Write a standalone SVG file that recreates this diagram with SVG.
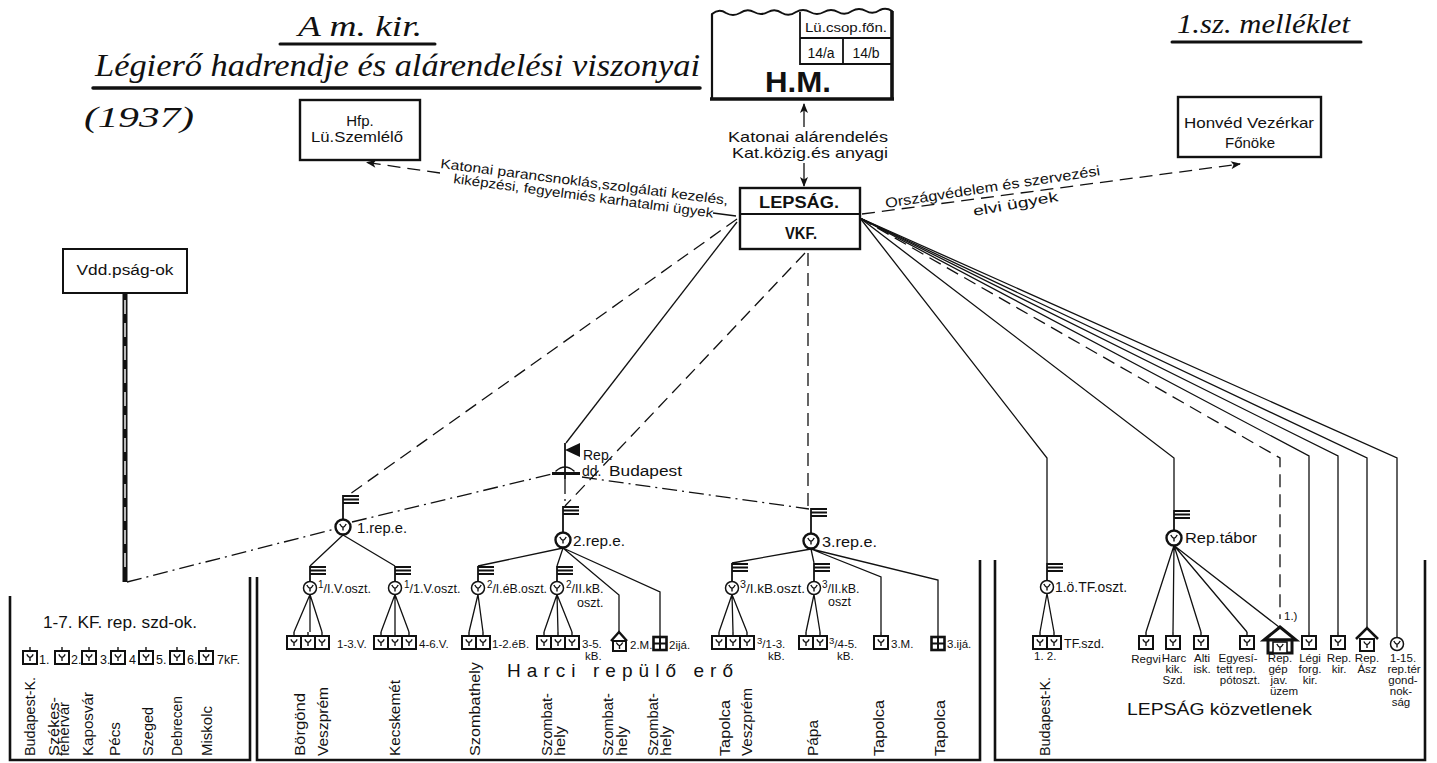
<svg xmlns="http://www.w3.org/2000/svg" width="1437" height="763" viewBox="0 0 1437 763">
<style>
.t{font-family:"Liberation Sans","DejaVu Sans",Arial,sans-serif;fill:#111}
.c{text-anchor:middle}
.b{font-weight:bold}
.cal{font-family:"Liberation Serif","DejaVu Serif",serif;font-style:italic;fill:#111}
.ln{stroke:#111;stroke-width:1.3;fill:none}
.da{stroke-dasharray:13 7}
.dd{stroke-dasharray:15 5 2 5}
.bx{fill:#fff;stroke:#111;stroke-width:2.4}
.fr{fill:none;stroke:#111;stroke-width:2.6}
.pole{stroke:#111;stroke-width:1.8;fill:none}
.ul{stroke:#111;stroke-linecap:round;fill:none}
.s11{font-size:11.5px}
.s12{font-size:12.5px}
.s14{font-size:14px}
</style>
<defs>
<marker id="ah" viewBox="0 0 10 8" refX="9" refY="4" markerWidth="11" markerHeight="8" markerUnits="userSpaceOnUse" orient="auto"><path d="M0,0 L10,4 L0,8 L2.5,4 z" fill="#111"/></marker>
<path id="ysym" d="M-3.2,-3 Q-1.5,0.2 0,0.2 Q1.5,0.2 3.2,-3 M0,0.2 V3.6" fill="none" stroke="#111" stroke-width="1.4"/>
<g id="yb"><path d="M0,-4V0" stroke="#111" stroke-width="1.4"/><rect x="-7" y="0" width="14" height="13" fill="#fff" stroke="#111" stroke-width="2"/><use href="#ysym" y="6.3"/></g>
<g id="cyL"><circle r="7.5" fill="#fff" stroke="#111" stroke-width="2.4"/><use href="#ysym"/></g>
<g id="cyS"><circle r="6.5" fill="#fff" stroke="#111" stroke-width="1.5"/><use href="#ysym"/></g>
<path id="stripes" d="M0,1 H16 M0,4.5 H16 M0,8 H16" stroke="#111" stroke-width="2"/>
<g id="ija"><rect x="-6.5" y="0" width="13" height="13" fill="#fff" stroke="#111" stroke-width="2.6"/><path d="M-6.5,6.5 H6.5 M0,0 V13" stroke="#111" stroke-width="2"/></g>
</defs>
<rect width="1437" height="763" fill="#fff"/>

<g id="title">
<text class="cal" x="298" y="36" font-size="30" textLength="124" lengthAdjust="spacingAndGlyphs">A m. kir.</text>
<path class="ul" d="M280,44 H435" stroke-width="3"/>
<text class="cal" x="95" y="76" font-size="32" textLength="605" lengthAdjust="spacingAndGlyphs">Légierő hadrendje és alárendelési viszonyai</text>
<path class="ul" d="M93,88 H700" stroke-width="3.5"/>
<text class="cal" x="84" y="127" font-size="30" textLength="110" lengthAdjust="spacingAndGlyphs">(1937)</text>
<text class="cal" x="1177" y="33" font-size="27" textLength="173" lengthAdjust="spacingAndGlyphs">1.sz. melléklet</text>
<path class="ul" d="M1172,42 H1361" stroke-width="3"/>
</g>

<g id="connectors">
<path class="ln" d="M804,127 V104" marker-end="url(#ah)"/>
<path class="ln" d="M804,163 V186" marker-end="url(#ah)"/>
<path class="ln da" d="M440,173 L367,162.5" marker-end="url(#ah)"/>
<path class="ln" d="M736,216 L713,213"/>
<path class="ln da" d="M862,214 L1240,164" marker-end="url(#ah)"/>
<path class="ln da" d="M737,219 L350,494"/>
<path class="ln" d="M737,222 L566,443"/>
<path class="ln da" d="M805,253 L565,506"/>
<path class="ln da" d="M808,253 V506"/>
<path class="ln dd" d="M127,582 L335,529"/>
<path class="ln dd" d="M352,522 L552,474"/>
<path class="ln dd" d="M582,477 L809,509"/>
<path class="ln dd" d="M565,479 V506"/>
<path class="ln" d="M860,218 L1047,458 V563"/>
<path class="ln" d="M860,218 L1174,458 V510"/>
<path class="ln da" d="M860,218 L1280,458 V619"/>
<path class="ln" d="M860,218 L1309,456 V632"/>
<path class="ln" d="M860,218 L1338,456 V632"/>
<path class="ln" d="M860,218 L1367,458 V627"/>
<path class="ln" d="M860,218 L1397,458 V637"/>
<path class="ln" d="M343,535 L310,566 M343,535 L395,566"/>
<path class="ln" d="M310,594.5 L294,632 M310,594.5 V632 M310,594.5 L322,632"/>
<path class="ln" d="M395,594.5 L381,632 M395,594.5 V632 M395,594.5 L409,632"/>
<path class="ln" d="M563,548 L478,566 M563,548 L557,566 M563,548 L619,595 V632 M563,548 L660,592 V636"/>
<path class="ln" d="M478,594.5 L469,632 M478,594.5 L483,632"/>
<path class="ln" d="M557,594.5 L544,632 M557,594.5 L558,632 M557,594.5 L572,632"/>
<path class="ln" d="M811,549 L732,563 M811,549 L814,563 M811,549 L881,577 V632 M811,549 L938,580 V636"/>
<path class="ln" d="M732,594.5 L719,632 M732,594.5 L733,632 M732,594.5 L747,632"/>
<path class="ln" d="M814,594.5 L806,632 M814,594.5 L820,632"/>
<path class="ln" d="M1047,593.5 L1040,632 M1047,593.5 L1054,632"/>
<path class="ln" d="M1174,545.5 L1146,632 M1174,545.5 L1173,632 M1174,545.5 L1201,632 M1174,545.5 L1247,632 M1174,545.5 L1279,627"/>
</g>

<g id="hm">
<path d="M712,14 Q719,8 726,13 Q733,17 740,13 Q747,8 754,12 Q761,16 768,12 Q775,8 782,13 Q789,17 796,12 Q803,8 810,12 Q817,16 824,12 Q831,8 838,12 Q845,16 852,11 Q859,7 866,11 Q873,15 880,10 Q886,7 892,11" class="ul" stroke-width="2"/>
<path d="M712,14 V99" stroke="#111" stroke-width="2.2"/>
<path d="M710,99 H894 M892,11 V100" stroke="#111" stroke-width="3.6" fill="none"/>
<path d="M800,12 V64 H892 M800,38 H892 M843,38 V64" stroke="#111" stroke-width="1.8" fill="none"/>
<text class="t c" x="846" y="32" font-size="13" textLength="82" lengthAdjust="spacingAndGlyphs">Lü.csop.főn.</text>
<text class="t c" x="821" y="58" font-size="14">14/a</text>
<text class="t c" x="866" y="58" font-size="14">14/b</text>
<text class="t c b" x="798" y="92" font-size="30" textLength="66" lengthAdjust="spacingAndGlyphs">H.M.</text>
</g>

<g id="hm-label">
<text class="t c" x="808" y="142" font-size="15" textLength="160" lengthAdjust="spacingAndGlyphs">Katonai alárendelés</text>
<text class="t c" x="810" y="158" font-size="15" textLength="156" lengthAdjust="spacingAndGlyphs">Kat.közig.és anyagi</text>
</g>

<g id="lepsag">
<rect class="bx" x="740" y="188" width="120" height="61"/>
<path d="M740,214 H860" stroke="#111" stroke-width="2.2"/>
<text class="t c" x="799" y="208" font-size="16" textLength="80" lengthAdjust="spacingAndGlyphs" font-weight="600">LEPSÁG.</text>
<text class="t c" x="801" y="239" font-size="16" textLength="32" lengthAdjust="spacingAndGlyphs" font-weight="600">VKF.</text>
</g>

<g id="hfp">
<rect class="bx" x="300" y="100" width="120" height="60"/>
<text class="t c" x="360" y="126" font-size="15">Hfp.</text>
<text class="t c" x="357" y="142" font-size="15" textLength="92" lengthAdjust="spacingAndGlyphs">Lü.Szemlélő</text>
</g>

<g id="hfp-label">
<text class="t" font-size="13.5" transform="translate(440,168) rotate(7.3)" textLength="290" lengthAdjust="spacingAndGlyphs">Katonai parancsnoklás,szolgálati kezelés,</text>
<text class="t" font-size="13.5" transform="translate(453,183) rotate(7.6)" textLength="262" lengthAdjust="spacingAndGlyphs">kiképzési, fegyelmiés karhatalmi ügyek</text>
</g>

<g id="hvk">
<rect class="bx" x="1178" y="97" width="143" height="60"/>
<text class="t c" x="1249" y="128" font-size="15" textLength="130" lengthAdjust="spacingAndGlyphs">Honvéd Vezérkar</text>
<text class="t c" x="1250" y="148" font-size="15">Főnöke</text>
</g>

<g id="hvk-label">
<text class="t" font-size="14" transform="translate(886,208) rotate(-8.7)" textLength="217" lengthAdjust="spacingAndGlyphs">Országvédelem és szervezési</text>
<text class="t" font-size="14" transform="translate(974,216) rotate(-10)" textLength="86" lengthAdjust="spacingAndGlyphs">elvi ügyek</text>
</g>

<g id="vdd">
<rect x="63" y="249" width="124" height="44" fill="#fff" stroke="#111" stroke-width="2"/>
<text class="t c" x="125" y="275" font-size="14" textLength="97" lengthAdjust="spacingAndGlyphs">Vdd.pság-ok</text>
<line x1="125" y1="293" x2="125" y2="582" stroke="#111" stroke-width="5"/>
<line x1="125" y1="300" x2="125" y2="576" stroke="#fff" stroke-width="1.4" stroke-dasharray="14 9"/>
</g>

<g id="repdd">
<path class="pole" d="M565,443 V479" stroke-width="2.2"/>
<path d="M565,450 L580,443 L580,457 Z" fill="#111"/>
<path d="M552,473.5 H580" stroke="#111" stroke-width="3"/>
<path d="M556,471 Q565,463 574,471" class="ul" stroke-width="1.5"/>
<text class="t" x="583" y="460" font-size="14">Rep.</text>
<text class="t" x="582" y="476" font-size="14">dd.</text>
<text class="t" x="609" y="476" font-size="15.5" textLength="73" lengthAdjust="spacingAndGlyphs">Budapest</text>
</g>

<g id="frames">
<path class="fr" d="M10,596 V760 H250 V577"/>
<path class="fr" d="M257,577 V760 H980 V560"/>
<path class="fr" d="M995,560 V760 H1425 V560"/>
</g>

<g id="kf-szd">
<text class="t" x="43" y="628" font-size="16" textLength="154" lengthAdjust="spacingAndGlyphs">1-7. KF. rep. szd-ok.</text>
<use href="#yb" x="30" y="651"/><use href="#yb" x="62" y="651"/><use href="#yb" x="89" y="651"/><use href="#yb" x="118" y="651"/><use href="#yb" x="146" y="651"/><use href="#yb" x="177" y="651"/><use href="#yb" x="206" y="651"/>
<text class="t s12" y="664"><tspan x="39">1.</tspan><tspan x="71">2.</tspan><tspan x="100">3.</tspan><tspan x="129">4</tspan><tspan x="156">5.</tspan><tspan x="187">6.</tspan><tspan x="217">7kF.</tspan></text>
<g class="t s14">
<text transform="translate(35,756) rotate(-90)" textLength="79" lengthAdjust="spacingAndGlyphs">Budapest-K.</text>
<text transform="translate(59,756) rotate(-90)" textLength="59" lengthAdjust="spacingAndGlyphs">Székes-</text>
<text transform="translate(69,756) rotate(-90)" textLength="54" lengthAdjust="spacingAndGlyphs">fehérvár</text>
<text transform="translate(93,756) rotate(-90)" textLength="64" lengthAdjust="spacingAndGlyphs">Kaposvár</text>
<text transform="translate(120,756) rotate(-90)" textLength="34" lengthAdjust="spacingAndGlyphs">Pécs</text>
<text transform="translate(153,756) rotate(-90)" textLength="49" lengthAdjust="spacingAndGlyphs">Szeged</text>
<text transform="translate(182,756) rotate(-90)" textLength="60" lengthAdjust="spacingAndGlyphs">Debrecen</text>
<text transform="translate(212,756) rotate(-90)" textLength="50" lengthAdjust="spacingAndGlyphs">Miskolc</text>
</g>
</g>

<g id="rep1">
<path class="pole" d="M343,495 V519.5"/><use href="#stripes" x="343" y="495"/>
<use href="#cyL" x="343" y="527"/>
<text class="t" x="357" y="533" font-size="14" textLength="50" lengthAdjust="spacingAndGlyphs">1.rep.e.</text>
</g>
<g id="oszt-1-1">
<path class="pole" d="M310,566 V581.5"/><use href="#stripes" x="310" y="566"/>
<use href="#cyS" x="310" y="588"/>
<text class="t s12" x="318" y="593"><tspan font-size="10" dy="-5">1</tspan><tspan dy="5">/I.V.oszt.</tspan></text>
</g>
<g id="oszt-1-2">
<path class="pole" d="M395,566 V581.5"/><use href="#stripes" x="395" y="566"/>
<use href="#cyS" x="395" y="588"/>
<text class="t s12" x="404" y="593"><tspan font-size="10" dy="-5">1</tspan><tspan dy="5">/1.V.oszt.</tspan></text>
</g>
<g id="szd-1-3">
<use href="#yb" x="294" y="636"/><use href="#yb" x="308" y="636"/><use href="#yb" x="322" y="636"/>
<text class="t s11" x="337" y="648">1-3.V.</text>
</g>
<g id="szd-4-6">
<use href="#yb" x="381" y="636"/><use href="#yb" x="395" y="636"/><use href="#yb" x="409" y="636"/>
<text class="t s11" x="419" y="648">4-6.V.</text>
</g>

<g id="rep2">
<path class="pole" d="M563,506 V532.5"/><use href="#stripes" x="563" y="506"/>
<use href="#cyL" x="563" y="540"/>
<text class="t" x="573" y="546" font-size="15" textLength="52" lengthAdjust="spacingAndGlyphs">2.rep.e.</text>
</g>
<g id="oszt-2-1">
<path class="pole" d="M478,566 V581.5"/><use href="#stripes" x="478" y="566"/>
<use href="#cyS" x="478" y="588"/>
<text class="t s12" x="487" y="593" textLength="60" lengthAdjust="spacingAndGlyphs"><tspan font-size="10" dy="-5">2</tspan><tspan dy="5">/I.éB.oszt.</tspan></text>
</g>
<g id="oszt-2-2">
<path class="pole" d="M557,566 V581.5"/><use href="#stripes" x="557" y="566"/>
<use href="#cyS" x="557" y="588"/>
<text class="t s12" x="566" y="593"><tspan font-size="10" dy="-5">2</tspan><tspan dy="5">/II.kB.</tspan></text>
<text class="t s12" x="577" y="607">oszt.</text>
</g>
<g id="szd-1-2eb">
<use href="#yb" x="469" y="636"/><use href="#yb" x="483" y="636"/>
<text class="t s11" x="492" y="648">1-2.éB.</text>
</g>
<g id="szd-3-5kb">
<use href="#yb" x="544" y="636"/><use href="#yb" x="558" y="636"/><use href="#yb" x="572" y="636"/>
<text class="t s11" x="582" y="648">3-5.</text>
<text class="t s11" x="585" y="660">kB.</text>
</g>
<g id="m2">
<path d="M611,641 L619,632 L627,641" stroke="#111" stroke-width="2.4" fill="none"/>
<rect x="613" y="641" width="13" height="10" fill="#fff" stroke="#111" stroke-width="2"/>
<use href="#ysym" x="619.5" y="645.5"/>
<text class="t s11" x="630" y="649">2.M.</text>
</g>
<g id="ija2">
<use href="#ija" x="660" y="637"/>
<text class="t s11" x="669" y="649">2ijá.</text>
</g>

<g id="rep3">
<path class="pole" d="M811,508 V533.5"/><use href="#stripes" x="811" y="508"/>
<use href="#cyL" x="811" y="541"/>
<text class="t" x="822" y="547" font-size="15" textLength="55" lengthAdjust="spacingAndGlyphs">3.rep.e.</text>
</g>
<g id="oszt-3-1">
<path class="pole" d="M732,563 V581.5"/><use href="#stripes" x="732" y="563"/>
<use href="#cyS" x="732" y="588"/>
<text class="t s12" x="740" y="593" textLength="65" lengthAdjust="spacingAndGlyphs"><tspan font-size="10" dy="-5">3</tspan><tspan dy="5">/I.kB.oszt.</tspan></text>
</g>
<g id="oszt-3-2">
<path class="pole" d="M814,563 V581.5"/><use href="#stripes" x="814" y="563"/>
<use href="#cyS" x="814" y="588"/>
<text class="t s12" x="822" y="593"><tspan font-size="10" dy="-5">3</tspan><tspan dy="5">/II.kB.</tspan></text>
<text class="t s12" x="828" y="606">oszt</text>
</g>
<g id="szd-3-1-3">
<use href="#yb" x="719" y="636"/><use href="#yb" x="733" y="636"/><use href="#yb" x="747" y="636"/>
<text class="t s11" x="757" y="648"><tspan font-size="9.5" dy="-4">3</tspan><tspan dy="4">/1-3.</tspan></text>
<text class="t s11" x="768" y="660">kB.</text>
</g>
<g id="szd-3-4-5">
<use href="#yb" x="806" y="636"/><use href="#yb" x="820" y="636"/>
<text class="t s11" x="829" y="648"><tspan font-size="9.5" dy="-4">3</tspan><tspan dy="4">/4-5.</tspan></text>
<text class="t s11" x="837" y="660">kB.</text>
</g>
<g id="m3">
<use href="#yb" x="881" y="636"/>
<text class="t s11" x="891" y="648">3.M.</text>
</g>
<g id="ija3">
<use href="#ija" x="938" y="637"/>
<text class="t s11" x="947" y="648">3.ijá.</text>
</g>

<g id="harci-label">
<text class="t" x="507" y="677" font-size="19" textLength="226" lengthAdjust="spacing">Harci  repülő  erő</text>
</g>

<g id="mid-places" class="t s14">
<text transform="translate(305,756) rotate(-90)" textLength="63" lengthAdjust="spacingAndGlyphs">Börgönd</text>
<text transform="translate(328,756) rotate(-90)" textLength="69" lengthAdjust="spacingAndGlyphs">Veszprém</text>
<text transform="translate(400,756) rotate(-90)" textLength="76" lengthAdjust="spacingAndGlyphs">Kecskemét</text>
<text transform="translate(480,756) rotate(-90)" textLength="94" lengthAdjust="spacingAndGlyphs">Szombathely</text>
<text transform="translate(552,756) rotate(-90)" textLength="63" lengthAdjust="spacingAndGlyphs">Szombat-</text>
<text transform="translate(565,756) rotate(-90)" textLength="30" lengthAdjust="spacingAndGlyphs">hely</text>
<text transform="translate(613,756) rotate(-90)" textLength="63" lengthAdjust="spacingAndGlyphs">Szombat-</text>
<text transform="translate(627,756) rotate(-90)" textLength="30" lengthAdjust="spacingAndGlyphs">hely</text>
<text transform="translate(658,756) rotate(-90)" textLength="63" lengthAdjust="spacingAndGlyphs">Szombat-</text>
<text transform="translate(671,756) rotate(-90)" textLength="30" lengthAdjust="spacingAndGlyphs">hely</text>
<text transform="translate(730,756) rotate(-90)" textLength="56" lengthAdjust="spacingAndGlyphs">Tapolca</text>
<text transform="translate(752,756) rotate(-90)" textLength="68" lengthAdjust="spacingAndGlyphs">Veszprém</text>
<text transform="translate(818,756) rotate(-90)" textLength="36" lengthAdjust="spacingAndGlyphs">Pápa</text>
<text transform="translate(884,756) rotate(-90)" textLength="56" lengthAdjust="spacingAndGlyphs">Tapolca</text>
<text transform="translate(945,756) rotate(-90)" textLength="56" lengthAdjust="spacingAndGlyphs">Tapolca</text>
</g>

<g id="tf-oszt">
<path class="pole" d="M1047,563 V580.5"/><use href="#stripes" x="1047" y="563"/>
<use href="#cyS" x="1047" y="587"/>
<text class="t" x="1055" y="592" font-size="14" textLength="72" lengthAdjust="spacingAndGlyphs">1.ö.TF.oszt.</text>
</g>
<g id="tf-szd">
<use href="#yb" x="1040" y="636"/><use href="#yb" x="1054" y="636"/>
<text class="t s12" x="1064" y="648">TF.szd.</text>
<text class="t s11" x="1034" y="660">1. 2.</text>
<text class="t s14" transform="translate(1050,756) rotate(-90)" textLength="79" lengthAdjust="spacingAndGlyphs">Budapest-K.</text>
</g>

<g id="rep-tabor">
<path class="pole" d="M1174,510 V530.5"/><use href="#stripes" x="1174" y="510"/>
<use href="#cyL" x="1174" y="538"/>
<text class="t" x="1185" y="543" font-size="15.5" textLength="72" lengthAdjust="spacingAndGlyphs">Rep.tábor</text>
</g>

<g id="regvi"><use href="#yb" x="1146" y="636"/><text class="t s11 c" x="1146" y="663">Regvi</text></g>
<g id="harc"><use href="#yb" x="1173" y="636"/><text class="t s11 c" x="1174" y="662">Harc</text><text class="t s11 c" x="1174" y="673">kik.</text><text class="t s11 c" x="1174" y="684">Szd.</text></g>
<g id="alti"><use href="#yb" x="1201" y="636"/><text class="t s11 c" x="1202" y="662">Alti</text><text class="t s11 c" x="1202" y="673">isk.</text></g>
<g id="egyesitett"><use href="#yb" x="1247" y="636"/><text class="t s11 c" x="1238" y="662">Egyesí-</text><text class="t s11 c" x="1236" y="673">tett rep.</text><text class="t s11 c" x="1240" y="684">pótoszt.</text></g>
<g id="gepjav">
<path d="M1264,640 L1280,627 L1296,640 Z" fill="#fff" stroke="#111" stroke-width="3"/>
<rect x="1268" y="640" width="24" height="13" fill="#fff" stroke="#111" stroke-width="3"/>
<rect x="1273" y="642" width="14" height="11" fill="#fff" stroke="#111" stroke-width="1.6"/>
<use href="#ysym" x="1280" y="647"/>
<text class="t s11" x="1284" y="620">1.)</text>
<text class="t s11 c" x="1280" y="662">Rep.</text><text class="t s11 c" x="1278" y="673">gép</text><text class="t s11 c" x="1279" y="684">jav.</text><text class="t s11 c" x="1284" y="695">üzem</text>
</g>
<g id="legi"><use href="#yb" x="1309" y="636"/><text class="t s11 c" x="1310" y="662">Légi</text><text class="t s11 c" x="1310" y="673">forg.</text><text class="t s11 c" x="1310" y="684">kir.</text></g>
<g id="repkir"><use href="#yb" x="1338" y="636"/><text class="t s11 c" x="1339" y="662">Rep.</text><text class="t s11 c" x="1339" y="673">kir.</text></g>
<g id="repasz">
<path d="M1356,639 L1367,628 L1378,639" stroke="#111" stroke-width="2.6" fill="none"/>
<rect x="1360" y="639" width="14" height="12" fill="#fff" stroke="#111" stroke-width="2"/>
<use href="#ysym" x="1367" y="644.5"/>
<text class="t s11 c" x="1367" y="662">Rep.</text><text class="t s11 c" x="1367" y="673">Ász</text>
</g>
<g id="gondnoksag">
<use href="#cyS" x="1397" y="644"/>
<text class="t s11 c" x="1403" y="662">1-15.</text><text class="t s11 c" x="1404" y="673">rep.tér</text><text class="t s11 c" x="1403" y="684">gond-</text><text class="t s11 c" x="1401" y="695">nok-</text><text class="t s11 c" x="1401" y="706">ság</text>
</g>
<g id="lepsag-kozv">
<text class="t" x="1127" y="715" font-size="17" textLength="185" lengthAdjust="spacingAndGlyphs">LEPSÁG közvetlenek</text>
</g>
</svg>
